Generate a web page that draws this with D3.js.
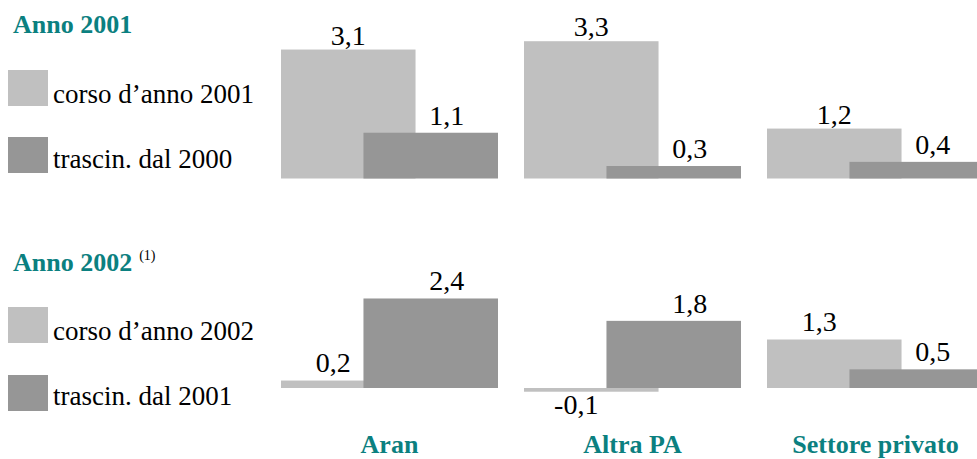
<!DOCTYPE html>
<html><head><meta charset="utf-8">
<script src="https://cdn.jsdelivr.net/npm/d3@7"></script>
<style>html,body{margin:0;padding:0;background:#fff;}</style></head>
<body>
<script>
const categories = ["Aran", "Altra PA", "Settore privato"];
const corso2001 = [3.1, 3.3, 1.2];
const trascin2000 = [1.1, 0.3, 0.4];
const corso2002 = [0.2, -0.1, 1.3];
const trascin2001 = [2.4, 1.8, 0.5];
const panelTitles = ["Anno 2001", "Anno 2002"];
const legend2001 = ["corso d\u2019anno 2001", "trascin. dal 2000"];
const legend2002 = ["corso d\u2019anno 2002", "trascin. dal 2001"];

const W = 977, H = 459;
const FONT = '"Liberation Serif", "Times New Roman", Tinos, serif';
const LIGHT = "#c0c0c0", DARK = "#969696", TEAL = "#0b8080";
const svg = d3.select("body").append("svg").attr("width", W).attr("height", H);

const x = d3.scaleBand().domain(categories).range([281, 984]).paddingInner(0.107).paddingOuter(0);
const bw = x.bandwidth();
const barW = bw * 0.62, darkOff = bw - barW;
const fmt = v => d3.format(".1f")(v).replace(".", ",").replace("\u2212", "-");

function txt(g) {
  return g.append("text").style("font-family", FONT).attr("fill", "#000");
}

const panels = [
  {title: panelTitles[0], sup: null, legend: legend2001, light: corso2001, dark: trascin2000,
   y: d3.scaleLinear().domain([0, 3.3]).range([178.5, 178.5 - 3.3 * 41.6]),
   titleY: 33, sw: [70, 137], txt: [103, 168], lightDx: 0, lightGap: 5, darkGap: 8},
  {title: panelTitles[1], sup: "(1)", legend: legend2002, light: corso2002, dark: trascin2001,
   y: d3.scaleLinear().domain([0, 2.4]).range([388, 388 - 2.4 * 37.3]),
   titleY: 271, sw: [307, 375], txt: [340, 405], lightDx: -15, lightGap: 9, darkGap: 8}
];

panels.forEach(p => {
  const g = svg.append("g");
  const t = txt(g).attr("x", 13).attr("y", p.titleY)
    .attr("fill", TEAL).attr("font-weight", "bold").attr("font-size", 26).text(p.title);
  if (p.sup) {
    const bb = t.node().getBBox();
    txt(g).attr("x", bb.x + bb.width + 7).attr("y", p.titleY - 11).attr("font-size", 14).text(p.sup);
  }
  [LIGHT, DARK].forEach((c, i) => {
    g.append("rect").attr("x", 8).attr("y", p.sw[i]).attr("width", 40).attr("height", 36).attr("fill", c);
    txt(g).attr("x", 53).attr("y", p.txt[i]).attr("font-size", 27).text(p.legend[i]);
  });
  const y0 = p.y(0);
  g.selectAll(".lb").data(categories).join("rect")
    .attr("x", d => x(d)).attr("width", barW)
    .attr("y", (d, i) => Math.min(p.y(p.light[i]), y0))
    .attr("height", (d, i) => Math.abs(p.y(p.light[i]) - y0))
    .attr("fill", LIGHT);
  g.selectAll(".db").data(categories).join("rect")
    .attr("x", d => x(d) + darkOff).attr("width", barW)
    .attr("y", (d, i) => Math.min(p.y(p.dark[i]), y0))
    .attr("height", (d, i) => Math.abs(p.y(p.dark[i]) - y0))
    .attr("fill", DARK);
  categories.forEach((d, i) => {
    txt(g).attr("x", x(d) + barW / 2 + p.lightDx)
      .attr("y", p.light[i] >= 0 ? p.y(p.light[i]) - p.lightGap : p.y(p.light[i]) + 22)
      .attr("text-anchor", "middle").attr("font-size", 28).text(fmt(p.light[i]));
    txt(g).attr("x", x(d) + darkOff + barW * 0.62)
      .attr("y", p.y(p.dark[i]) - p.darkGap)
      .attr("text-anchor", "middle").attr("font-size", 28).text(fmt(p.dark[i]));
  });
});

categories.forEach(d => {
  txt(svg).attr("x", x(d) + bw / 2).attr("y", 453)
    .attr("text-anchor", "middle").attr("font-weight", "bold").attr("font-size", 26)
    .attr("fill", TEAL).text(d);
});
</script>
</body></html>
